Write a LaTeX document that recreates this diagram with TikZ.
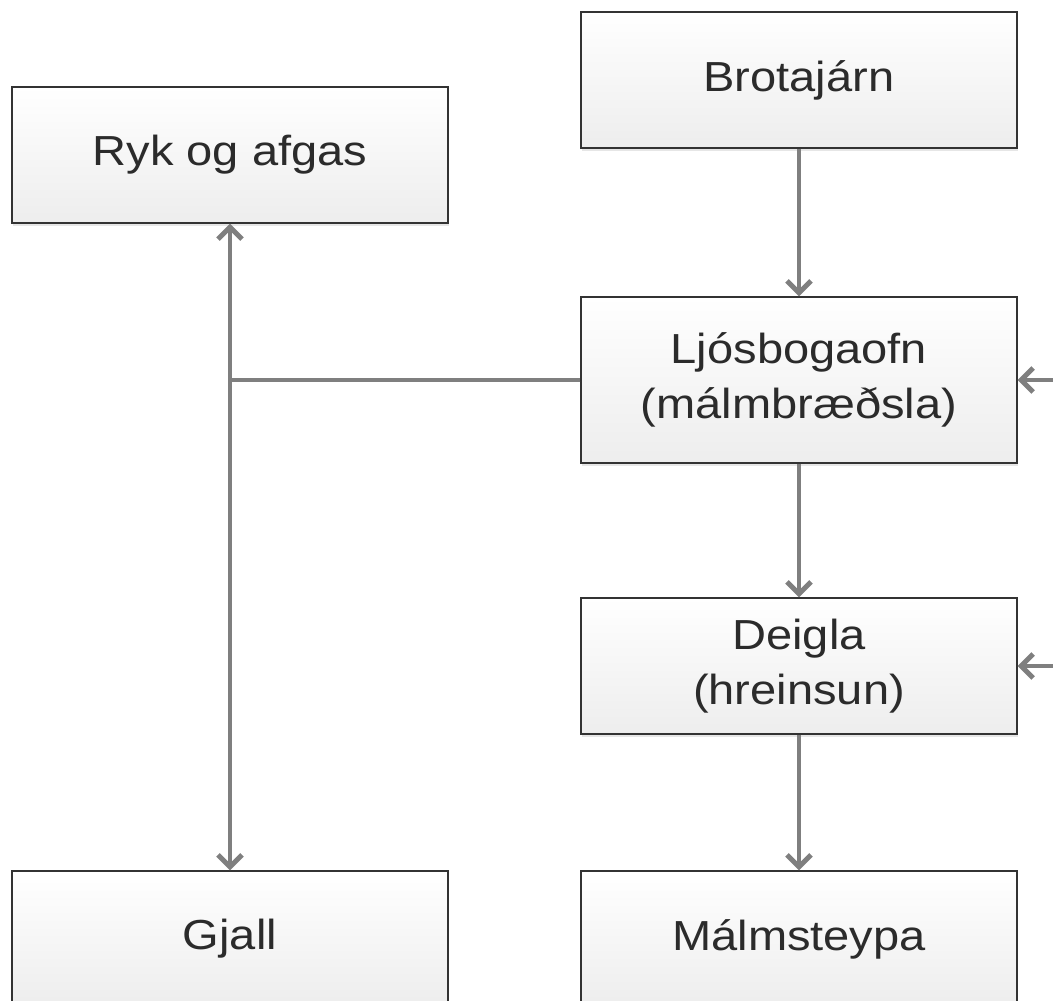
\documentclass[tikz,border=0pt]{standalone}
\usepackage{fontspec}
\setmainfont{Liberation Sans}[FakeStretch=1.12]
\usetikzlibrary{arrows.meta,shadows}
\definecolor{linegray}{HTML}{7F7F7F}
\definecolor{txtgray}{HTML}{2B2B2B}
\tikzset{
  box/.style={draw=black!80, line width=1.3pt, top color=white, bottom color=black!7,
    minimum width=436pt, minimum height=136pt, align=center, text=txtgray,
    font=\fontsize{42}{55}\selectfont,
    drop shadow={opacity=0.2, shadow xshift=1pt, shadow yshift=-3pt}},
  tip/.tip={Straight Barb[length=12pt,width=24pt,line width=5pt]},
  flow/.style={draw=linegray, line width=4pt, -tip},
  link/.style={draw=linegray, line width=4pt}
}
\begin{document}
\begin{tikzpicture}[x=1pt,y=-1pt]
        \useasboundingbox (0,0) rectangle (1053,1001);
        \node[box] (brot) at (799,80) {Brotajárn};
        \node[box] (ryk) at (230,155) {Ryk og afgas};
        \node[box, minimum height=166pt] (ljos) at (799,380) {Ljósbogaofn\\(málmbræðsla)};
        \node[box] (deig) at (799,666) {Deigla\\(hreinsun)};
        \node[box] (gjall) at (230,939) {Gjall};
        \node[box] (malm) at (799,939) {Málmsteypa};
        \coordinate (mot) at (ryk |- ljos);
        \coordinate (inn1) at (1053,380);
        \coordinate (inn2) at (1053,666);
        \draw[flow] (brot) -- (ljos);
        \draw[flow] (ljos) -- (deig);
        \draw[flow] (deig) -- (malm);
        \draw[flow, tip-tip] (ryk) -- (gjall);
        \draw[link] (ljos.west) -- (mot);
        \draw[flow] (inn1) -- (ljos.east);
        \draw[flow] (inn2) -- (deig.east);
\end{tikzpicture}
\end{document}
